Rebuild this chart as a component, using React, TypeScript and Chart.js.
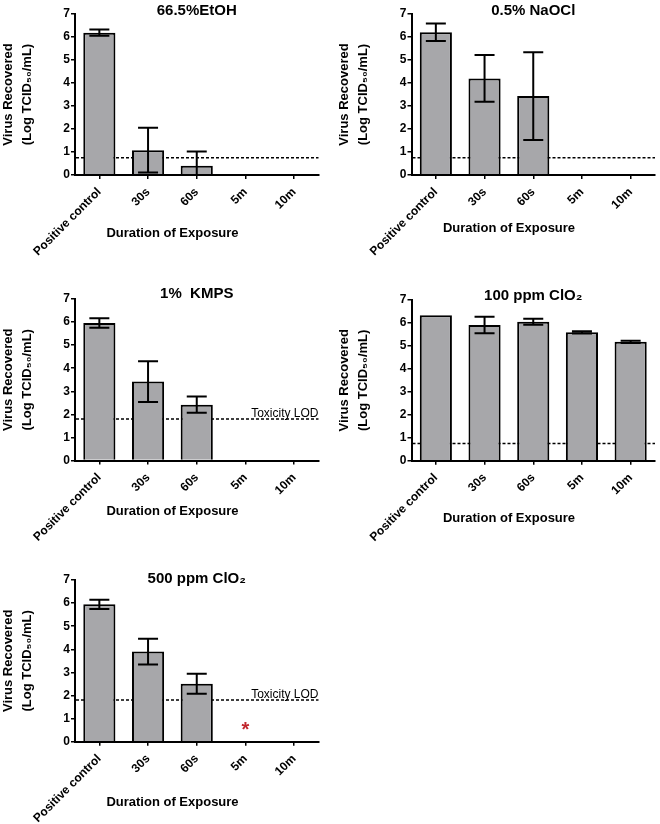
import React, { useEffect, useRef } from "react";
import { Chart, registerables } from "chart.js";

Chart.register(...registerables);

const FONT = "'Liberation Sans', Arial, Helvetica, sans-serif";

// ---------- data ----------
const categories = ["Positive control", "30s", "60s", "5m", "10m"];
const yTickValues = [0, 1, 2, 3, 4, 5, 6, 7];

const panelTitles = ["66.5%EtOH", "0.5% NaOCl", "1%  KMPS", "100 ppm ClO\u2082", "500 ppm ClO\u2082"];

const etohMeans = [6.19, 1.08, 0.4, 0, 0];
const etohSD = [0.14, 0.97, 0.62, 0, 0];

const naoclMeans = [6.21, 4.2, 3.43, 0, 0];
const naoclSD = [0.38, 1.02, 1.91, 0, 0];

const kmpsMeans = [5.96, 3.42, 2.42, 0, 0];
const kmpsSD = [0.21, 0.88, 0.35, 0, 0];

const clo2LowMeans = [6.34, 5.91, 6.05, 5.59, 5.18];
const clo2LowSD = [0, 0.36, 0.13, 0.05, 0.05];

const clo2HighMeans = [5.95, 3.9, 2.51, 0, 0];
const clo2HighSD = [0.2, 0.56, 0.43, 0, 0];

const lodValues = [0.75, 0.75, 1.8, 0.75, 1.8];
const lodLabels = ["", "", "Toxicity LOD", "", "Toxicity LOD"];

const noMarks: (number | null)[] = [null, null, null, null, null];
const clo2HighMarks: (number | null)[] = [null, null, null, 0.76, null];

const yAxisTitle = ["Virus Recovered", "(Log TCID\u2085\u2080/mL)"];
const xAxisTitle = "Duration of Exposure";

const MEANS = [etohMeans, naoclMeans, kmpsMeans, clo2LowMeans, clo2HighMeans];
const SDS = [etohSD, naoclSD, kmpsSD, clo2LowSD, clo2HighSD];
const MARKS = [noMarks, noMarks, noMarks, noMarks, clo2HighMarks];

// ---------- layout (page pixels) ----------
const LAYOUT = [
  { left: 0, top: 0, w: 330, h: 265, pl: 75, pr: 318.5, pt: 14, pb: 175, titleY: 11, xTitleY: 233 },
  { left: 330, top: 0, w: 330, h: 265, pl: 411.5, pr: 655, pt: 14, pb: 175, titleY: 11, xTitleY: 228 },
  { left: 0, top: 265, w: 330, h: 280, pl: 75, pr: 318.5, pt: 299, pb: 460.5, titleY: 294, xTitleY: 511 },
  { left: 330, top: 265, w: 330, h: 280, pl: 411.5, pr: 655, pt: 300, pb: 460.7, titleY: 296, xTitleY: 518 },
  { left: 0, top: 545, w: 330, h: 279, pl: 75, pr: 318.5, pt: 580, pb: 741.7, titleY: 579, xTitleY: 802 },
];

const BAR_FILL = "#a7a7aa";

function Panel({ idx }: { idx: number }) {
  const ref = useRef<HTMLCanvasElement>(null);
  const L = LAYOUT[idx];

  useEffect(() => {
    if (!ref.current) return;
    const means = MEANS[idx];
    const sds = SDS[idx];
    const marks = MARKS[idx];
    const lod = lodValues[idx];
    const lodLabel = lodLabels[idx];

    const titleLH = 18;
    const titlePadTop = L.titleY - L.top - titleLH / 2;
    const titlePadBottom = L.pt - L.top - titleLH - titlePadTop;

    const yTitleLH = 19;
    const yTitlePad = L.pl - 67 - L.left - yTitleLH / 2;

    const overlay = {
      id: "overlay" + idx,
      beforeDatasetsDraw(chart: any) {
        const { ctx, chartArea } = chart;
        const y = chart.scales.y.getPixelForValue(lod);
        ctx.save();
        ctx.strokeStyle = "#000";
        ctx.lineWidth = 1.5;
        ctx.setLineDash([3, 2]);
        ctx.beginPath();
        ctx.moveTo(chartArea.left + 1, y);
        ctx.lineTo(chartArea.right, y);
        ctx.stroke();
        ctx.setLineDash([]);
        if (lodLabel) {
          ctx.fillStyle = "#000";
          ctx.font = `12px ${FONT}`;
          ctx.textAlign = "right";
          ctx.textBaseline = "alphabetic";
          ctx.fillText(lodLabel, chartArea.right, y - 2);
        }
        ctx.restore();
      },
      afterDatasetsDraw(chart: any) {
        const { ctx, chartArea } = chart;
        const meta = chart.getDatasetMeta(0);
        const ys = chart.scales.y;
        ctx.save();
        ctx.beginPath();
        ctx.rect(chartArea.left, chartArea.top - 10, chartArea.right - chartArea.left, chartArea.bottom - chartArea.top + 10);
        ctx.clip();
        ctx.strokeStyle = "#000";
        ctx.lineWidth = 2;
        const cap = 10;
        meta.data.forEach((bar: any, i: number) => {
          const sd = sds[i];
          if (!sd) return;
          const x = bar.x;
          const yTop = ys.getPixelForValue(means[i] + sd);
          const yBot = ys.getPixelForValue(means[i] - sd);
          ctx.beginPath();
          ctx.moveTo(x, yTop);
          ctx.lineTo(x, yBot);
          ctx.moveTo(x - cap, yTop);
          ctx.lineTo(x + cap, yTop);
          ctx.moveTo(x - cap, yBot);
          ctx.lineTo(x + cap, yBot);
          ctx.stroke();
        });
        ctx.restore();
        // asterisk marks
        ctx.save();
        ctx.fillStyle = "#c1272d";
        ctx.font = `bold 20px ${FONT}`;
        ctx.textAlign = "center";
        ctx.textBaseline = "alphabetic";
        meta.data.forEach((bar: any, i: number) => {
          const m = marks[i];
          if (m === null || m === undefined) return;
          ctx.fillText("*", bar.x, ys.getPixelForValue(m) + 11.5);
        });
        ctx.restore();
      },
      afterDraw(chart: any) {
        const { ctx, chartArea } = chart;
        ctx.save();
        ctx.fillStyle = "#000";
        ctx.font = `bold 13px ${FONT}`;
        ctx.textAlign = "center";
        ctx.textBaseline = "middle";
        ctx.fillText(xAxisTitle, chartArea.left + 97.5, L.xTitleY - L.top);
        ctx.restore();
      },
    };

    const chart = new Chart(ref.current, {
      type: "bar",
      data: {
        labels: categories,
        datasets: [
          {
            data: means,
            backgroundColor: BAR_FILL,
            borderColor: "#000",
            borderWidth: 2,
            barPercentage: 0.66,
            categoryPercentage: 1,
          },
        ],
      },
      options: {
        responsive: false,
        maintainAspectRatio: false,
        animation: false,
        devicePixelRatio: 1,
        layout: { padding: { left: 0, right: L.left + L.w - L.pr, top: 0, bottom: 0 } },
        plugins: {
          legend: { display: false },
          tooltip: { enabled: false },
          title: {
            display: true,
            text: panelTitles[idx],
            fullSize: false,
            color: "#000",
            font: { family: FONT, size: 15, weight: "bold", lineHeight: titleLH / 15 },
            padding: { top: titlePadTop, bottom: titlePadBottom },
          },
        },
        scales: {
          x: {
            offset: true,
            grid: {
              display: true,
              offset: false,
              drawOnChartArea: false,
              drawTicks: true,
              tickLength: 4,
              color: "#000",
              lineWidth: 1.5,
            },
            border: { display: true, color: "#000", width: 2, z: 1 },
            ticks: {
              autoSkip: false,
              minRotation: 45,
              maxRotation: 45,
              padding: 6,
              color: "#000",
              font: { family: FONT, size: 12, weight: "bold" },
            },
            afterFit(scale: any) {
              scale.height = L.top + L.h - L.pb;
            },
          },
          y: {
            min: 0,
            max: 7,
            grid: {
              display: true,
              drawOnChartArea: false,
              drawTicks: true,
              tickLength: 4,
              color: "#000",
              lineWidth: 1.5,
            },
            border: { display: true, color: "#000", width: 2, z: 1 },
            ticks: {
              padding: 1,
              color: "#000",
              font: { family: FONT, size: 12, weight: "bold" },
            },
            afterBuildTicks(scale: any) {
              scale.ticks = yTickValues.map((v) => ({ value: v }));
            },
            title: {
              display: true,
              text: yAxisTitle,
              color: "#000",
              font: { family: FONT, size: 13, weight: "bold", lineHeight: yTitleLH / 13 },
              padding: { top: yTitlePad, bottom: 0 },
            },
            afterFit(scale: any) {
              scale.width = L.pl - L.left;
            },
          },
        },
      },
      plugins: [overlay],
    } as any);

    return () => chart.destroy();
  }, []);

  return (
    <canvas
      ref={ref}
      width={L.w}
      height={L.h}
      style={{ position: "absolute", left: L.left, top: L.top, width: L.w, height: L.h }}
    />
  );
}

export default function App() {
  return (
    <div style={{ position: "absolute", left: 0, top: 0, width: 660, height: 824, background: "#fff" }}>
      {LAYOUT.map((_, i) => (
        <Panel key={i} idx={i} />
      ))}
    </div>
  );
}
